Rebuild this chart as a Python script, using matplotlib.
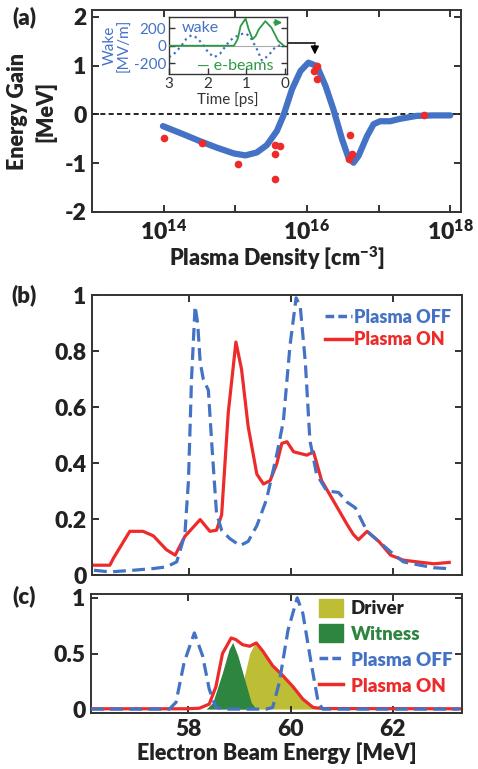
import matplotlib
matplotlib.use('Agg')
import matplotlib.pyplot as plt
from matplotlib.patches import Patch
from matplotlib.lines import Line2D

plt.rcParams['font.family'] = ['Lato', 'DejaVu Sans']
plt.rcParams['axes.unicode_minus'] = False
plt.rcParams['mathtext.fontset'] = 'custom'
plt.rcParams['mathtext.rm'] = 'Lato'
plt.rcParams['mathtext.bf'] = 'Lato:weight=heavy'
plt.rcParams['mathtext.it'] = 'Lato:italic'

BLUE = '#4472C4'
RED = '#EE2B2B'
GREEN = '#2E9A48'
DRIVER = '#BDBD36'
WITNESS = '#2E8540'
INK = '#222222'
WT = 'heavy'

# ---------------- (a) energy gain vs plasma density ----------------
sim_logn = [13.99, 14.28, 14.51, 14.74, 14.98, 15.14, 15.30, 15.44, 15.58, 15.67,
            15.79, 15.91, 16.02, 16.14, 16.26, 16.37, 16.49, 16.58, 16.65, 16.72,
            16.84, 16.93, 17.02, 17.16, 17.30, 17.53, 17.77, 18.00]
sim_gain = [-0.24, -0.41, -0.55, -0.68, -0.80, -0.84, -0.78, -0.63, -0.34, -0.03,
            0.51, 0.89, 1.06, 0.99, 0.58, 0.10, -0.51, -0.89, -0.99, -0.85,
            -0.44, -0.20, -0.14, -0.14, -0.09, -0.03, -0.02, -0.02]
exp_logn = [14.00, 14.53, 15.04, 15.56, 15.62, 15.56, 15.56, 16.10, 16.14, 16.14,
            16.60, 16.58, 16.63, 17.64]
exp_gain = [-0.48, -0.58, -1.01, -0.63, -0.65, -0.82, -1.33, 0.89, 1.00, 0.72,
            -0.43, -0.92, -0.82, -0.01]
a_xticks = [14, 15, 16, 17, 18]
a_xticklabels = [r'$\mathbf{10^{14}}$', '', r'$\mathbf{10^{16}}$', '', r'$\mathbf{10^{18}}$']
a_yticks = [-2, -1, 0, 1, 2]

# inset: wake and e-beams vs time
wake_t = [3.00, 2.84, 2.68, 2.55, 2.42, 2.28, 2.13, 1.98, 1.83, 1.68, 1.53, 1.42,
          1.32, 1.15, 1.02, 0.90, 0.73, 0.60, 0.43, 0.26, 0.05]
wake_v = [-130, -80, 0, 80, 119, 90, 19, -80, -130, -90, 0, 60,
          92, 130, 140, 100, -37, -167, -111, -19, 19]
beam_t = [3.00, 1.32, 1.22, 1.15, 1.02, 0.94, 0.84, 0.76, 0.68, 0.51, 0.35, 0.18, 0.03]
beam_v = [0, 0, 80, 222, 307, 185, 74, 110, 185, 278, 204, 56, 0]
ins_xticks = [3, 2, 1, 0]
ins_yticks = [-200, 0, 200]

# ---------------- (b) spectra ----------------
b_off_E = [56.14, 56.45, 56.91, 57.30, 57.56, 57.76, 57.92, 57.99, 58.05, 58.12,
           58.17, 58.22, 58.28, 58.38, 58.45, 58.54, 58.64, 58.80, 59.00, 59.16,
           59.33, 59.52, 59.72, 59.85, 59.98, 60.10, 60.18, 60.28, 60.37, 60.50,
           60.70, 60.93, 61.10, 61.26, 61.49, 61.68, 61.95, 62.20, 62.53, 62.80, 63.06]
b_off_v = [0.017, 0.011, 0.017, 0.023, 0.029, 0.047, 0.145, 0.337, 0.70, 0.96,
           0.90, 0.76, 0.70, 0.66, 0.46, 0.22, 0.16, 0.13, 0.105, 0.12,
           0.176, 0.27, 0.43, 0.55, 0.82, 0.99, 0.96, 0.76, 0.48, 0.36,
           0.30, 0.295, 0.26, 0.24, 0.156, 0.126, 0.083, 0.047, 0.035, 0.026, 0.023]
b_on_E = [56.14, 56.45, 56.52, 56.84, 57.10, 57.30, 57.56, 57.73, 57.92, 58.22,
          58.41, 58.54, 58.64, 58.77, 58.92, 59.03, 59.16, 59.33, 59.46, 59.59,
          59.72, 59.82, 59.92, 60.05, 60.31, 60.44, 60.60, 60.83, 61.10, 61.22,
          61.32, 61.49, 61.72, 61.95, 62.20, 62.47, 62.80, 63.10]
b_on_v = [0.035, 0.035, 0.06, 0.156, 0.156, 0.14, 0.09, 0.071, 0.138, 0.198,
          0.156, 0.16, 0.215, 0.58, 0.832, 0.735, 0.53, 0.36, 0.325, 0.337,
          0.397, 0.47, 0.476, 0.44, 0.428, 0.44, 0.337, 0.265, 0.18, 0.145,
          0.126, 0.156, 0.12, 0.071, 0.053, 0.047, 0.04, 0.045]
b_yticks = [0, 0.2, 0.4, 0.6, 0.8, 1.0]
b_yticklabels = ['0', '0.2', '0.4', '0.6', '0.8', '1']
E_ticks = [58, 60, 62]

# ---------------- (c) simulated spectra ----------------
c_off_E = [56.10, 57.63, 57.76, 57.92, 58.12, 58.28, 58.41, 58.54, 58.74, 59.52,
           59.65, 59.78, 59.95, 60.13, 60.24, 60.40, 60.54, 60.63, 63.30]
c_off_v = [0, 0, 0.06, 0.42, 0.685, 0.48, 0.18, 0.015, 0, 0,
           0.015, 0.24, 0.71, 1.0, 0.86, 0.42, 0.06, 0, 0]
c_on_E = [56.10, 57.95, 58.22, 58.41, 58.54, 58.67, 58.84, 58.93, 59.06, 59.20,
          59.33, 59.46, 59.65, 59.85, 60.05, 60.24, 60.44, 60.63, 63.30]
c_on_v = [0.003, 0.003, 0.008, 0.045, 0.20, 0.50, 0.64, 0.625, 0.58, 0.565,
          0.595, 0.52, 0.39, 0.30, 0.20, 0.09, 0.015, 0.005, 0.003]
wit_E = [58.35, 58.48, 58.67, 58.80, 58.87, 58.97, 59.10, 59.23, 59.33]
wit_v = [0, 0.06, 0.33, 0.54, 0.60, 0.48, 0.27, 0.06, 0]
drv_E = [58.90, 59.00, 59.10, 59.20, 59.30, 59.46, 59.65, 59.85, 60.05, 60.24, 60.44, 60.60]
drv_v = [0, 0.10, 0.30, 0.50, 0.59, 0.51, 0.38, 0.29, 0.19, 0.08, 0.01, 0]
c_yticks = [0, 0.5, 1]
c_yticklabels = ['0', '0.5', '1']

W, H = 478, 769
fig = plt.figure(figsize=(W / 100, H / 100), dpi=100)

def box(l, t, r, b):
    return [l / W, 1 - b / H, (r - l) / W, (b - t) / H]

TICK = 16.5
LAB = 15.5

def style(ax):
    for s in ax.spines.values():
        s.set_linewidth(1.4)
        s.set_color('#333333')
    ax.tick_params(direction='in', top=True, right=True, length=5, width=1.3,
                   labelsize=TICK, colors=INK, pad=4)
    for lbl in ax.get_xticklabels() + ax.get_yticklabels():
        lbl.set_fontweight(WT)

# ----- panel (a)
ax = fig.add_axes(box(92, 10, 461, 212))
ax.set_xscale('log')
ax.plot([10 ** v for v in sim_logn], sim_gain, color=BLUE, lw=4.5, solid_capstyle='round', zorder=2)
ax.plot([10 ** v for v in exp_logn], exp_gain, 'o', color=RED, ms=5.5, mec='none', zorder=3)
ax.axhline(0, color='k', ls='--', lw=1.2, dashes=(3, 2), zorder=1)
ax.set_xlim(1e13, 10 ** 18.15)
ax.set_ylim(-2, 2.14)
ax.set_xticks([10 ** v for v in a_xticks])
ax.set_xticklabels(a_xticklabels)
ax.xaxis.set_minor_locator(matplotlib.ticker.NullLocator())
ax.set_yticks(a_yticks)
ax.set_yticklabels([str(v) for v in a_yticks])
style(ax)
ax.tick_params(axis='x', pad=5)
ax.set_xlabel(r'Plasma Density [cm$^{\mathbf{-3}}$]', fontsize=LAB, fontweight=WT, color=INK, labelpad=1)
ax.set_ylabel('Energy Gain\n[MeV]', fontsize=LAB, fontweight=WT, color=INK, linespacing=1.35, labelpad=6)
# arrow from inset to peak
ax.plot([10 ** 15.73, 10 ** 16.11], [1.47, 1.47], color='k', lw=1.1, zorder=4)
ax.annotate('', xy=(10 ** 16.11, 1.17), xytext=(10 ** 16.11, 1.48),
            arrowprops=dict(arrowstyle='-|>', color='k', lw=1.1, mutation_scale=12), zorder=4)

# ----- inset
ai = fig.add_axes(box(169, 17, 287, 74))
ai.axhline(0, color='#aaaaaa', lw=0.8, zorder=1)
ai.plot(wake_t, wake_v, color=BLUE, ls=':', lw=1.6, zorder=2)
ai.plot(beam_t, beam_v, color=GREEN, lw=1.3, zorder=3)
ai.annotate('', xy=(0.0, 262), xytext=(0.36, 262),
            arrowprops=dict(arrowstyle='-|>', color=GREEN, lw=1.3, mutation_scale=9))
ai.set_xlim(3.0, -0.05)
ai.set_ylim(-320, 325)
ai.set_xticks(ins_xticks)
ai.set_yticks(ins_yticks)
for s in ai.spines.values():
    s.set_linewidth(1.0)
    s.set_color('#333333')
ai.tick_params(direction='in', right=True, length=4, width=1.0, labelsize=11, pad=2)
ai.tick_params(axis='x', colors='#333333')
ai.tick_params(axis='y', colors='#333333', labelcolor=BLUE)
ai.set_xlabel('Time [ps]', fontsize=11, color='#333333', labelpad=1)
ai.set_ylabel('Wake\n[MV/m]', fontsize=11, color=BLUE, linespacing=1.0, labelpad=2)
ai.text(2.2, 200, 'wake', color=BLUE, fontsize=11.5, ha='center', va='center')
ai.text(1.3, -235, '— e-beams', color=GREEN, fontsize=11.5, ha='center', va='center')

# ----- panel (b)
bx = fig.add_axes(box(92, 295, 462, 575))
bx.plot(b_on_E, b_on_v, color=RED, lw=2.3, label='Plasma ON', zorder=2)
bx.plot(b_off_E, b_off_v, color=BLUE, lw=2.3, ls='--', dashes=(4, 2), label='Plasma OFF', zorder=3)
bx.set_xlim(56.1, 63.35)
bx.set_ylim(0, 1)
bx.set_xticks(E_ticks)
bx.set_xticklabels([])
bx.set_yticks(b_yticks)
bx.set_yticklabels(b_yticklabels)
style(bx)
hb = [Line2D([], [], color=BLUE, lw=2.5, ls='--', dashes=(2.5, 1.2)),
      Line2D([], [], color=RED, lw=2.5)]
bx.legend(hb, ['Plasma OFF', 'Plasma ON'], loc='upper right', frameon=False,
          prop={'weight': WT, 'size': 13}, labelcolor=[BLUE, RED],
          handlelength=1.5, handletextpad=0.1, labelspacing=0.3,
          borderaxespad=0.2, bbox_to_anchor=(1.0, 0.99))

# ----- panel (c)
cx = fig.add_axes(box(91, 594, 462, 713))
cx.fill_between(drv_E, drv_v, 0, color=DRIVER, lw=0, zorder=1)
cx.fill_between(wit_E, wit_v, 0, color=WITNESS, lw=0, zorder=2)
cx.plot(c_on_E, c_on_v, color=RED, lw=2.3, zorder=3)
cx.plot(c_off_E, c_off_v, color=BLUE, lw=2.3, ls='--', dashes=(4, 2), zorder=4)
cx.set_xlim(56.1, 63.35)
cx.set_ylim(-0.035, 1.035)
cx.set_xticks(E_ticks)
cx.set_xticklabels([str(v) for v in E_ticks])
cx.set_yticks(c_yticks)
cx.set_yticklabels(c_yticklabels)
style(cx)
cx.set_xlabel('Electron Beam Energy [MeV]', fontsize=LAB, fontweight=WT, color=INK, labelpad=2)
hc = [Patch(color=DRIVER), Patch(color=WITNESS),
      Line2D([], [], color=BLUE, lw=2.5, ls='--', dashes=(2.5, 1.2)),
      Line2D([], [], color=RED, lw=2.5)]
cx.legend(hc, ['Driver', 'Witness', 'Plasma OFF', 'Plasma ON'], loc='upper right',
          frameon=False, prop={'weight': WT, 'size': 13.5},
          labelcolor=[INK, WITNESS, BLUE, RED], handlelength=1.3, handleheight=1.1,
          handletextpad=0.4, labelspacing=0.4, borderaxespad=0.1,
          bbox_to_anchor=(1.0, 1.04))

for txt, y in [('(a)', 17), ('(b)', 295), ('(c)', 596)]:
    fig.text(24 / W, 1 - y / H, txt, fontsize=16, fontweight=WT, color=INK,
             ha='center', va='center')

fig.savefig('out.png', dpi=100)
